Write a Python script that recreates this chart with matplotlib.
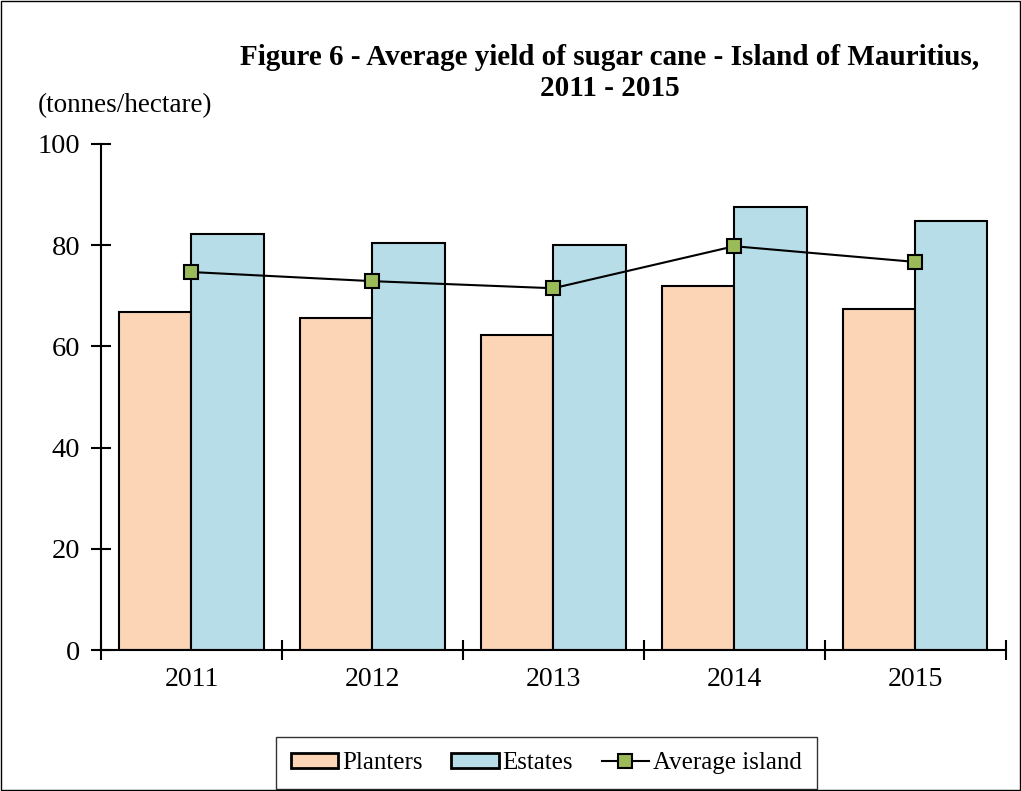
import numpy as np
import matplotlib.pyplot as plt
from matplotlib.patches import Rectangle

years = ['2011', '2012', '2013', '2014', '2015']
planters = [66.8, 65.6, 62.3, 71.9, 67.4]
estates = [82.2, 80.4, 80.0, 87.5, 84.8]
average_island = [74.7, 72.9, 71.5, 79.8, 76.7]

plt.rcParams['font.family'] = ['Liberation Serif', 'DejaVu Serif']

fig = plt.figure(figsize=(10.21, 7.91), dpi=100)
ax = fig.add_axes([0.0989, 0.178, 0.886, 0.640])

x = np.arange(len(years))
w = 0.4
b1 = ax.bar(x - w / 2, planters, w, color='#fbd5b5', edgecolor='black', linewidth=1.5, label='Planters')
b2 = ax.bar(x + w / 2, estates, w, color='#b7dde8', edgecolor='black', linewidth=1.5, label='Estates')
l1, = ax.plot(x, average_island, '-s', color='black', lw=1.5, markersize=10,
              markerfacecolor='#9bbb59', markeredgecolor='black', markeredgewidth=1.5,
              label='Average island')

ax.set_xlim(-0.5, 4.5)
ax.set_ylim(0, 100)
ax.set_yticks([0, 20, 40, 60, 80, 100])
ax.set_xticks(np.arange(-0.5, 5, 1), minor=False)
ax.set_xticklabels([])
ax.set_xticks(x, minor=True)
ax.set_xticklabels(years, minor=True, fontsize=20)
ax.tick_params(axis='x', which='minor', length=0, pad=12)
ax.tick_params(axis='x', which='major', direction='inout', length=14, width=1.5)
ax.tick_params(axis='y', direction='inout', length=14, width=1.5, labelsize=20.5, pad=8)

for s in ['top', 'right']:
    ax.spines[s].set_visible(False)
for s in ['left', 'bottom']:
    ax.spines[s].set_linewidth(1.5)

fig.text(0.597, 0.908, 'Figure 6 - Average yield of sugar cane - Island of Mauritius,\n2011 - 2015',
         ha='center', va='center', fontsize=21, fontweight='bold', linespacing=1.2)
fig.text(0.037, 0.866, '(tonnes/hectare)', fontsize=19.5, ha='left', va='center')

leg = ax.legend(handles=[b1, b2, l1], loc='center', bbox_to_anchor=(0.535, 0.0355),
                bbox_transform=fig.transFigure,
                ncol=3, fontsize=18, frameon=True, fancybox=False, edgecolor='black',
                handlelength=1.9, handleheight=0.55, handletextpad=0.15, columnspacing=1.15,
                borderpad=0.6)
leg.get_frame().set_linewidth(1.0)
for p in leg.get_patches():
    p.set_linewidth(2.0)

fig.patches.append(Rectangle((0.001, 0.001), 0.998, 0.998, transform=fig.transFigure,
                             fill=False, edgecolor='black', linewidth=1.0))

fig.savefig('out.png', dpi=100)
